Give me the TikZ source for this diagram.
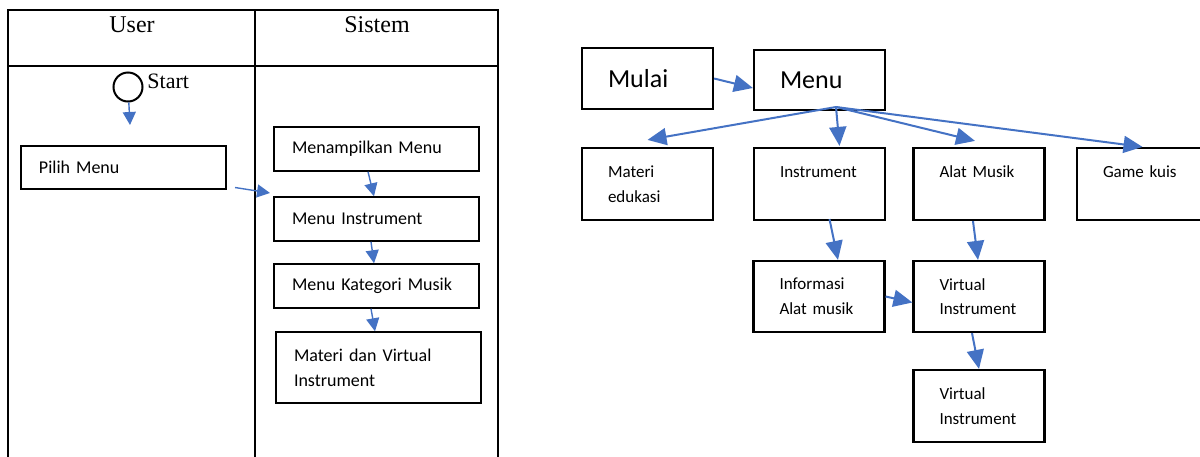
\documentclass[tikz,border=0pt]{standalone}
\usepackage{fontspec}
\setmainfont{Carlito}
\newfontfamily\lanefont{Liberation Serif}
\usetikzlibrary{arrows.meta}
\definecolor{flowblue}{RGB}{68,114,196}

\begin{document}
\begin{tikzpicture}[x=0.5pt,y=-0.5pt,
    box/.style={draw,line width=1.1pt,inner xsep=13pt,text width=39.5pt,
      minimum height=36pt,align=left,font=\fontsize{8.5}{12.3}\selectfont},
    bigbox/.style={box,minimum height=30.5pt,font=\fontsize{13}{15}\selectfont},
    lanebox/.style={draw,line width=0.75pt,inner xsep=9pt,text width=84.5pt,
      minimum height=22pt,align=left,font=\fontsize{9}{12.5}\selectfont},
    flow/.style={color=flowblue,line width=1pt,-{Triangle[length=9.5pt,width=8.5pt]}},
    laneflow/.style={color=flowblue,line width=0.7pt,-{Triangle[length=6.5pt,width=6.5pt]}}]
  \useasboundingbox (0,0) rectangle (1200,456);

  % swimlanes
  \draw[line width=0.75pt] (8,470) -- (8,10) -- (498,10) -- (498,470);
  \draw[line width=0.75pt] (8,66) -- (498,66);
  \draw[line width=0.75pt] (255,10) -- (255,470);
  \node[font=\lanefont\fontsize{12}{14}\selectfont] (user) at (132,25) {User};
  \node[font=\lanefont\fontsize{12}{14}\selectfont] (sistem) at (377,25) {Sistem};

  \node[draw,circle,line width=1pt,minimum size=14.5pt,inner sep=0pt] (start) at (128,87) {};
  \node[anchor=west,inner sep=0pt,font=\lanefont\fontsize{11}{13}\selectfont] (startlbl) at (147,81.5) {Start};
  \coordinate (s1) at (130,125);
  \node[lanebox,minimum height=21.5pt] (pilih) at (123.5,167.5) {Pilih Menu};
  \coordinate (p1) at (235,187.5);
  \coordinate (p2) at (270,193);
  \node[lanebox] (tampil) at (376.5,149) {Menampilkan Menu};
  \node[lanebox] (minstr) at (376.5,219) {Menu Instrument};
  \node[lanebox] (mkat) at (376.5,286) {Menu Kategori Musik};
  \node[lanebox,minimum height=35.5pt] (mvirt) at (378.5,367.5) {Materi dan Virtual\\Instrument};

  \path
    (start) edge[laneflow] (s1)
    (p1) edge[laneflow] (p2)
    ([xshift=-4.25pt]tampil.south) edge[laneflow] ([xshift=-1.25pt]minstr.north)
    ([xshift=-2.75pt]minstr.south) edge[laneflow] ([xshift=-1.25pt]mkat.north)
    ([xshift=-2.75pt]mkat.south) edge[laneflow] ([xshift=-1.75pt]mvirt.north)
    ;

  % menu tree
  \node[bigbox] (mulai) at (647.5,78.5) {Mulai};
  \node[bigbox,minimum height=30pt] (menu) at (819.5,80) {Menu};
  \coordinate (hub) at (836,107);
  \node[box] (materi) at (647.5,184) {Materi\\edukasi};
  \node[box] (instr) at (819.5,184) {Instrument\\\mbox{}};
  \node[box] (alat) at (979,184) {Alat Musik\\\mbox{}};
  \node[box] (game) at (1142.5,184) {Game kuis\\\mbox{}};
  \node[box,minimum height=35.5pt] (info) at (819,296.5) {Informasi\\Alat musik};
  \node[box,minimum height=35.5pt] (virt) at (979,296.5) {Virtual\\Instrument};
  \node[box] (virt2) at (979,406) {Virtual\\Instrument};

  \path
    (mulai.east) edge[flow] ([yshift=-4pt]menu.west)
    (hub) edge[flow] ([yshift=3.5pt]materi.north)
    (hub) edge[flow] ([xshift=10pt,yshift=0.5pt]instr.north)
    (hub) edge[flow] ([xshift=-2pt,yshift=3pt]alat.north)
    (hub) edge[flow] (game.north)
    ([xshift=5pt,yshift=1pt]instr.south) edge[flow] ([xshift=9.5pt]info.north)
    ([xshift=-3pt]alat.south) edge[flow] ([xshift=-0.5pt]virt.north)
    (info.east) edge[flow] ([yshift=-3pt]virt.west)
    ([xshift=-3.5pt]virt.south) edge[flow] (virt2.north)
    ;
\end{tikzpicture}
\end{document}
